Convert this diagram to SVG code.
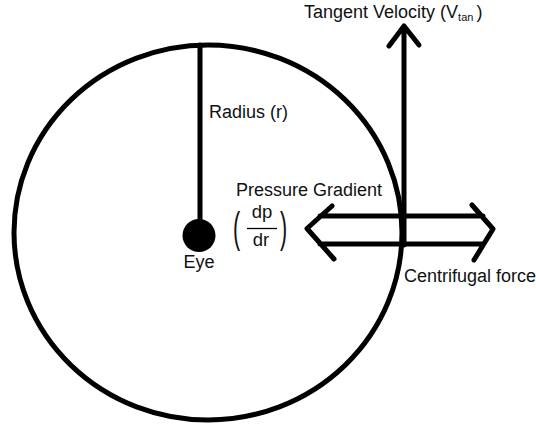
<svg xmlns="http://www.w3.org/2000/svg" width="536" height="427" viewBox="0 0 536 427">
<style>
  text { font-family: "Liberation Sans", Arial, sans-serif; fill: #111; }
  .lbl { font-size: 18px; }
  .frac { font-size: 18.5px; }
  .paren { font-size: 43px; }
  .stroke { fill: none; stroke: #000; stroke-width: 5; stroke-linecap: round; stroke-linejoin: round; }
</style>
<rect width="536" height="427" fill="#fff"/>
<g id="boundary">
  <ellipse class="stroke" cx="208" cy="232.5" rx="194" ry="187.5"/>
</g>
<g id="connectors">
  <path id="radius-line" class="stroke" d="M200 45 L200 228"/>
  <path id="tangent-arrow" class="stroke" d="M404 245 L404 26 M389 46 L404 26 L419 45"/>
  <path id="force-arrows" class="stroke" stroke-width="5.5" d="M320 216 L483 216 M320 244 L483 244 M332 206 L307 228.5 L334 259 M472 205 L493 229 L474 260"/>
</g>
<g id="eye">
  <circle cx="199" cy="235.5" r="16.5" fill="#000"/>
  <text class="lbl" x="199" y="268" text-anchor="middle">Eye</text>
</g>
<g id="label-radius">
  <text class="lbl" x="209" y="118">Radius (r)</text>
</g>
<g id="label-tangent">
  <text class="lbl" x="304" y="17.5">Tangent Velocity (V<tspan font-size="11" dy="3">tan</tspan><tspan dx="3" dy="-3">)</tspan></text>
</g>
<g id="label-pressure">
  <text class="lbl" x="236" y="196">Pressure Gradient</text>
  <text class="paren" transform="translate(233 242) scale(0.5 1)" x="0" y="0">(</text>
  <text class="frac" x="262" y="218" text-anchor="middle">dp</text>
  <line x1="247" y1="228.5" x2="277" y2="228.5" stroke="#000" stroke-width="1.3"/>
  <text class="frac" x="261" y="246" text-anchor="middle">dr</text>
  <text class="paren" transform="translate(280 242) scale(0.5 1)" x="0" y="0">)</text>
</g>
<g id="label-centrifugal">
  <text class="lbl" x="404" y="282">Centrifugal force</text>
</g>
</svg>
